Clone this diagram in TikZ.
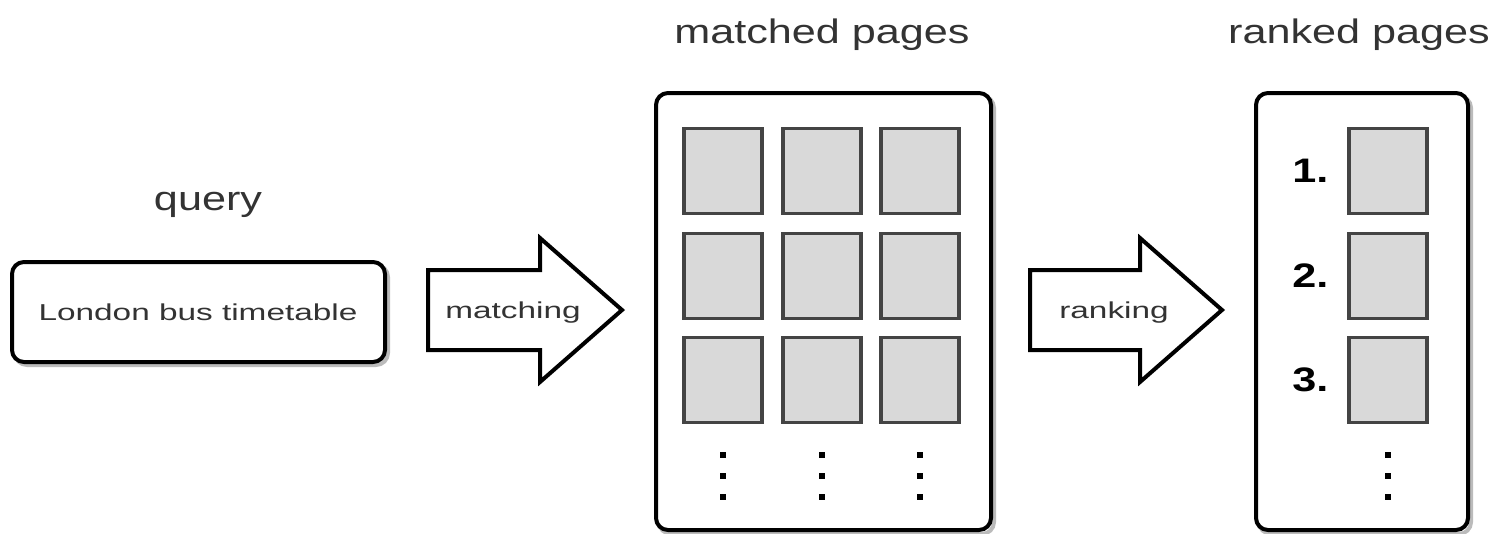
\documentclass[tikz,border=0pt]{standalone}
\usepackage{fontspec}
\setmainfont{Liberation Sans}
\newfontfamily\widefont{Liberation Sans}[FakeStretch=1.27]
\newfontfamily\widerfont{Liberation Sans}[FakeStretch=1.45]
\usetikzlibrary{positioning}
\definecolor{pagefill}{HTML}{D9D9D9}
\definecolor{pageedge}{HTML}{444444}
\definecolor{shadowgray}{HTML}{BBBBBB}
\definecolor{ink}{HTML}{333333}
\tikzset{
  panel/.style={draw=black, line width=4pt, rounded corners=12pt, fill=white},
  panelshadow/.style={draw=shadowgray, line width=4pt, rounded corners=12pt},
  page/.style={draw=pageedge, fill=pagefill, line width=3.5pt, minimum width=78pt, minimum height=85pt, inner sep=0pt},
  title/.style={text=ink, font=\widefont\fontsize{34}{36}\selectfont},
  small/.style={text=ink, font=\widerfont\fontsize{23}{25}\selectfont},
  rank/.style={text=black, font=\widefont\bfseries\fontsize{34}{36}\selectfont},
  fat arrow/.style={draw=black, line width=4pt, fill=white, line join=miter},
  vdot/.style={rectangle, fill=black, inner sep=0pt, minimum size=6pt},
}
\begin{document}
\begin{tikzpicture}[x=1pt, y=-1pt]
\useasboundingbox (0,0) rectangle (1494,533);

% query
\node[title] (qlabel) at (208,205) {query};
\draw[panelshadow] (15,265) rectangle (388,365);
\draw[panel] (12,262) rectangle (385,362);
\node[small] (query) at (198,312) {London bus timetable};

% matching arrow
\draw[fat arrow] (428,270) -- (540,270) -- (540,238) -- (622,310) -- (540,382) -- (540,350) -- (428,350) -- cycle;
\node[small] (matching) at (513,313) {matching};

% matched pages
\node[title] (mlabel) at (822,35) {matched pages};
\draw[panelshadow] (659,96) rectangle (994,534);
\draw[panel] (656,93) rectangle (991,530);
\foreach \c/\x in {1/723,2/822,3/920}{
  \foreach \r/\y in {1/171,2/276,3/380}{
    \node[page] (m\r\c) at (\x,\y) {};
  }
  \node[vdot] (md\c a) at (\x,455) {};
  \node[vdot] (md\c b) at (\x,476) {};
  \node[vdot] (md\c c) at (\x,497) {};
}

% ranking arrow
\draw[fat arrow] (1030,270) -- (1140,270) -- (1140,238) -- (1222,310) -- (1140,382) -- (1140,350) -- (1030,350) -- cycle;
\node[small] (ranking) at (1114,313) {ranking};

% ranked pages
\node[title] (rlabel) at (1359,35) {ranked pages};
\draw[panelshadow] (1259,96) rectangle (1471,534);
\draw[panel] (1256,93) rectangle (1468,530);
\foreach \r/\y in {1/171,2/276,3/380}{
  \node[page] (r\r) at (1388,\y) {};
  \node[rank, anchor=east] (n\r) at (1332,\y) {\r.};
}
\node[vdot] (rda) at (1388,455) {};
\node[vdot] (rdb) at (1388,476) {};
\node[vdot] (rdc) at (1388,497) {};
\end{tikzpicture}
\end{document}
